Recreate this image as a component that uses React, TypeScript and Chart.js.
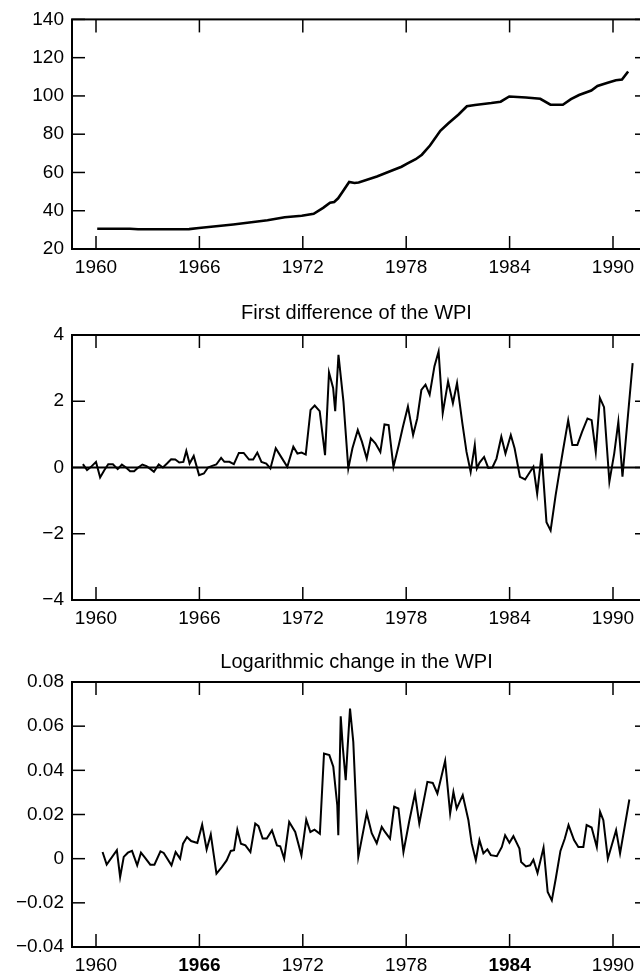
import React, { useEffect, useRef } from "react";
import { Chart, registerables } from "chart.js";

Chart.register(...registerables);

// ---------- axis data ----------
const xTickYears = [1960, 1966, 1972, 1978, 1984, 1990];
const xMinYear = 1958.607;
const xMaxYear = 1991.625;

const levelTicks = [20, 40, 60, 80, 100, 120, 140];
const levelTickLabels = ["20", "40", "60", "80", "100", "120", "140"];
const diffTicks = [-4, -2, 0, 2, 4];
const diffTickLabels = ["\u22124", "\u22122", "0", "2", "4"];
const logTicks = [-0.04, -0.02, 0, 0.02, 0.04, 0.06, 0.08];
const logTickLabels = ["\u22120.04", "\u22120.02", "0", "0.02", "0.04", "0.06", "0.08"];
const boldYearsLog = [1966, 1984];

const titleDiff = "First difference of the WPI";
const titleLog = "Logarithmic change in the WPI";

// ---------- series: WPI level ----------
const levelYears = [
  1960.07, 1961.97, 1962.44, 1965.4, 1965.97, 1967.96, 1969.95, 1970.95, 1971.94, 1972.63,
  1973.18, 1973.58, 1973.82, 1974.05, 1974.29, 1974.69, 1975.0, 1975.24, 1976.3, 1977.25,
  1977.73, 1978.08, 1978.55, 1978.91, 1979.38, 1979.98, 1980.45, 1981.04, 1981.52, 1981.99,
  1982.94, 1983.48, 1983.98, 1984.95, 1985.78, 1986.37, 1987.09, 1987.56, 1988.03, 1988.74,
  1989.1, 1989.69, 1990.17, 1990.52, 1990.88,
];
const levelValues = [
  30.6, 30.6, 30.3, 30.4, 31.0, 32.8, 35.0, 36.6, 37.4, 38.4,
  41.5, 44.2, 44.6, 46.5, 49.7, 55.0, 54.5, 54.8, 57.9, 61.3,
  63.0, 64.7, 66.9, 69.3, 74.1, 81.8, 85.7, 90.3, 94.6, 95.3,
  96.3, 97.0, 99.7, 99.2, 98.5, 95.4, 95.4, 98.3, 100.5, 102.8,
  105.2, 106.9, 108.2, 108.6, 112.8,
];

// ---------- series: first difference ----------
const diffYears = [
  1959.24, 1959.48, 1959.71, 1960.0, 1960.24, 1960.48, 1960.71, 1960.98, 1961.26, 1961.5,
  1961.74, 1961.98, 1962.21, 1962.45, 1962.69, 1962.93, 1963.17, 1963.36, 1963.64, 1963.88,
  1964.12, 1964.36, 1964.6, 1964.83, 1965.07, 1965.24, 1965.43, 1965.67, 1965.98, 1966.26,
  1966.5, 1966.74, 1966.98, 1967.26, 1967.45, 1967.74, 1968.0, 1968.29, 1968.57, 1968.88,
  1969.12, 1969.36, 1969.6, 1969.88, 1970.12, 1970.43, 1970.74, 1971.1, 1971.45, 1971.69,
  1971.93, 1972.17, 1972.45, 1972.69, 1972.98, 1973.29, 1973.52, 1973.76, 1973.88, 1974.07,
  1974.36, 1974.64, 1974.88, 1975.19, 1975.43, 1975.71, 1975.95, 1976.21, 1976.5, 1976.74,
  1976.98, 1977.26, 1977.57, 1977.81, 1978.1, 1978.4, 1978.64, 1978.88, 1979.12, 1979.36,
  1979.64, 1979.88, 1980.12, 1980.43, 1980.71, 1980.95, 1981.26, 1981.5, 1981.74, 1981.98,
  1982.1, 1982.26, 1982.52, 1982.76, 1983.0, 1983.24, 1983.52, 1983.76, 1984.07, 1984.29,
  1984.6, 1984.9, 1985.19, 1985.38, 1985.6, 1985.86, 1986.14, 1986.38, 1986.67, 1986.86,
  1987.1, 1987.4, 1987.64, 1987.93, 1988.21, 1988.52, 1988.76, 1989.0, 1989.24, 1989.48,
  1989.79, 1990.07, 1990.31, 1990.55, 1991.14,
];
const diffValues = [
  0.1, -0.08, 0.02, 0.17, -0.3, -0.08, 0.1, 0.1, -0.05, 0.09,
  0.0, -0.11, -0.11, 0.0, 0.09, 0.04, -0.05, -0.13, 0.09, 0.0,
  0.12, 0.25, 0.24, 0.15, 0.17, 0.5, 0.12, 0.35, -0.23, -0.18,
  0.0, 0.05, 0.09, 0.29, 0.17, 0.17, 0.1, 0.44, 0.44, 0.24,
  0.24, 0.45, 0.17, 0.12, -0.03, 0.58, 0.32, 0.02, 0.63, 0.42,
  0.45, 0.39, 1.74, 1.87, 1.7, 0.37, 2.87, 2.4, 1.7, 3.4,
  1.98, -0.03, 0.58, 1.13, 0.78, 0.27, 0.88, 0.73, 0.47, 1.3,
  1.28, 0.02, 0.68, 1.23, 1.84, 0.98, 1.48, 2.34, 2.5, 2.2,
  3.06, 3.5, 1.64, 2.6, 1.94, 2.55, 1.33, 0.47, -0.13, 0.68,
  -0.03, 0.15, 0.32, -0.01, 0.0, 0.27, 0.93, 0.42, 0.98, 0.58,
  -0.28, -0.36, -0.13, 0.02, -0.79, 0.42, -1.65, -1.9, -0.84, -0.23,
  0.52, 1.43, 0.68, 0.68, 1.08, 1.48, 1.43, 0.47, 2.1, 1.82,
  -0.43, 0.42, 1.38, -0.28, 3.15,
];

// ---------- series: logarithmic change ----------
const logYears = [
  1960.38, 1960.62, 1961.21, 1961.4, 1961.61, 1961.85, 1962.09, 1962.39, 1962.61, 1962.84,
  1963.15, 1963.39, 1963.74, 1963.93, 1964.38, 1964.62, 1964.88, 1965.05, 1965.28, 1965.52,
  1965.88, 1966.16, 1966.42, 1966.66, 1966.99, 1967.3, 1967.58, 1967.82, 1968.01, 1968.2,
  1968.41, 1968.67, 1968.96, 1969.24, 1969.43, 1969.67, 1969.91, 1970.21, 1970.5, 1970.69,
  1970.92, 1971.21, 1971.56, 1971.92, 1972.2, 1972.44, 1972.68, 1972.99, 1973.23, 1973.54,
  1973.77, 1974.0, 1974.06, 1974.2, 1974.32, 1974.49, 1974.59, 1974.74, 1974.93, 1975.22,
  1975.71, 1976.0, 1976.29, 1976.58, 1976.77, 1977.06, 1977.3, 1977.55, 1977.84, 1978.17,
  1978.51, 1978.76, 1979.23, 1979.54, 1979.81, 1980.26, 1980.55, 1980.74, 1980.93, 1981.28,
  1981.61, 1981.8, 1982.04, 1982.25, 1982.48, 1982.71, 1982.91, 1983.26, 1983.55, 1983.74,
  1983.99, 1984.22, 1984.57, 1984.67, 1984.95, 1985.19, 1985.38, 1985.62, 1985.97, 1986.21,
  1986.45, 1986.68, 1986.95, 1987.2, 1987.42, 1987.74, 1987.99, 1988.28, 1988.47, 1988.76,
  1989.06, 1989.25, 1989.44, 1989.7, 1990.18, 1990.41, 1990.95,
];
const logValues = [
  0.003, -0.0027, 0.0038, -0.0083, 0.0008, 0.0027, 0.0035, -0.003, 0.0027, 0.0005,
  -0.0027, -0.0027, 0.0033, 0.0026, -0.003, 0.003, 0.0, 0.0068, 0.0098, 0.008,
  0.0071, 0.0154, 0.0042, 0.011, -0.0068, -0.0038, -0.0008, 0.0035, 0.0038, 0.0131,
  0.0068, 0.006, 0.003, 0.0159, 0.0147, 0.0091, 0.0091, 0.0128, 0.006, 0.0056,
  0.0, 0.0166, 0.0121, 0.0015, 0.0177, 0.0121, 0.0131, 0.0113, 0.0476, 0.0469,
  0.0416, 0.0242, 0.0106, 0.0645, 0.0506, 0.0355, 0.049, 0.068, 0.0529, 0.0008,
  0.0206, 0.0115, 0.007, 0.0144, 0.0121, 0.0091, 0.0235, 0.0227, 0.003, 0.0167,
  0.0295, 0.0159, 0.0348, 0.0343, 0.0295, 0.0443, 0.0205, 0.0302, 0.0227, 0.0288,
  0.0174, 0.0069, -0.0007, 0.0084, 0.0024, 0.0042, 0.0016, 0.0011, 0.0053, 0.0106,
  0.0072, 0.0102, 0.0046, -0.0015, -0.0035, -0.003, -0.0005, -0.0065, 0.005, -0.0151,
  -0.0189, -0.009, 0.0035, 0.009, 0.0152, 0.0084, 0.0053, 0.0053, 0.0152, 0.0141,
  0.0053, 0.0212, 0.0174, 0.0, 0.0129, 0.0024, 0.0268,
];

const FONT = '"Liberation Sans", Arial, Helvetica, sans-serif';
const INK = "#000000";

function zip(xs: number[], ys: number[]) {
  const n = Math.min(xs.length, ys.length);
  const out: { x: number; y: number }[] = [];
  for (let i = 0; i < n; i++) out.push({ x: xs[i], y: ys[i] });
  return out;
}

const framePlugin = {
  id: "frame",
  afterDatasetsDraw(chart: any, _args: any, opts: any) {
    const { ctx, chartArea: a, scales } = chart;
    const xs = scales.x;
    const ys = scales.y;
    ctx.save();
    ctx.strokeStyle = INK;
    ctx.lineCap = "butt";
    const seg = (x1: number, y1: number, x2: number, y2: number) => {
      ctx.beginPath();
      ctx.moveTo(x1, y1);
      ctx.lineTo(x2, y2);
      ctx.stroke();
    };
    if (opts && opts.zeroLine) {
      ctx.lineWidth = 2;
      const y0 = ys.getPixelForValue(0);
      seg(a.left, y0, a.right, y0);
    }
    ctx.lineWidth = 2;
    ctx.strokeRect(a.left, a.top, a.right - a.left, a.bottom - a.top);
    ctx.lineWidth = 1.5;
    const tl = 13;
    xs.ticks.forEach((t: any) => {
      const px = xs.getPixelForValue(t.value);
      seg(px, a.bottom, px, a.bottom - tl);
      seg(px, a.top, px, a.top + tl);
    });
    ys.ticks.forEach((t: any) => {
      const py = ys.getPixelForValue(t.value);
      seg(a.left, py, a.left + tl, py);
      seg(a.right, py, a.right - 6, py);
    });
    ctx.restore();
  },
};

type PanelSpec = {
  top: number;
  height: number;
  padTop: number;
  xAxisHeight: number;
  lineWidth: number;
  title?: string;
  titlePad?: { top: number; bottom: number };
  xs: number[];
  ys: number[];
  yMin: number;
  yMax: number;
  yTicks: number[];
  yLabels: string[];
  zeroLine?: boolean;
  boldYears?: number[];
};

function Panel({ spec }: { spec: PanelSpec }) {
  const ref = useRef<HTMLCanvasElement | null>(null);
  useEffect(() => {
    if (!ref.current) return;
    const chart = new Chart(ref.current, {
      type: "line",
      data: {
        datasets: [
          {
            data: zip(spec.xs, spec.ys),
            borderColor: INK,
            borderWidth: spec.lineWidth,
            pointRadius: 0,
            tension: 0,
            fill: false,
          },
        ],
      },
      options: {
        animation: false,
        responsive: false,
        devicePixelRatio: 1,
        layout: { padding: { left: 0, right: 1, top: spec.padTop, bottom: 0 } },
        plugins: {
          legend: { display: false },
          tooltip: { enabled: false },
          title: spec.title
            ? {
                display: true,
                text: spec.title,
                fullSize: false,
                color: INK,
                font: { family: FONT, size: 20, weight: "normal" },
                padding: spec.titlePad,
              }
            : { display: false },
          frame: { zeroLine: !!spec.zeroLine },
        } as any,
        scales: {
          x: {
            type: "linear",
            min: xMinYear,
            max: xMaxYear,
            grid: { display: false, drawTicks: false },
            border: { display: false },
            afterBuildTicks: (s: any) => {
              s.ticks = xTickYears.map((v) => ({ value: v }));
            },
            afterFit: (s: any) => {
              s.height = spec.xAxisHeight;
              s.paddingLeft = 0;
              s.paddingRight = 0;
            },
            ticks: {
              autoSkip: false,
              maxRotation: 0,
              padding: 7,
              color: INK,
              font: (c: any) => ({
                family: FONT,
                size: 19,
                weight:
                  spec.boldYears && c.tick && spec.boldYears.includes(c.tick.value)
                    ? "bold"
                    : "normal",
              }),
              callback: (v: any) => String(v),
            },
          },
          y: {
            type: "linear",
            min: spec.yMin,
            max: spec.yMax,
            grid: { display: false, drawTicks: false },
            border: { display: false },
            afterBuildTicks: (s: any) => {
              s.ticks = spec.yTicks.map((v) => ({ value: v }));
            },
            afterFit: (s: any) => {
              s.width = 72;
            },
            ticks: {
              autoSkip: false,
              padding: 8,
              color: INK,
              font: { family: FONT, size: 19 },
              callback: (v: any) => {
                const i = spec.yTicks.findIndex((t) => Math.abs(t - v) < 1e-9);
                return i >= 0 ? spec.yLabels[i] : "";
              },
            },
          },
        },
      } as any,
      plugins: [framePlugin],
    });
    return () => chart.destroy();
  }, []);
  return (
    <canvas
      ref={ref}
      width={642}
      height={spec.height}
      style={{ position: "absolute", left: 0, top: spec.top, width: 642, height: spec.height }}
    />
  );
}

const panels: PanelSpec[] = [
  {
    top: 0,
    height: 290,
    padTop: 14,
    xAxisHeight: 41,
    lineWidth: 2.6,
    xs: levelYears,
    ys: levelValues,
    yMin: 20,
    yMax: 140,
    yTicks: levelTicks,
    yLabels: levelTickLabels,
  },
  {
    top: 290,
    height: 340,
    padTop: 0,
    xAxisHeight: 30,
    lineWidth: 2,
    title: titleDiff,
    titlePad: { top: 11, bottom: 10 },
    xs: diffYears,
    ys: diffValues,
    yMin: -4,
    yMax: 4,
    yTicks: diffTicks,
    yLabels: diffTickLabels,
    zeroLine: true,
  },
  {
    top: 630,
    height: 343,
    padTop: 0,
    xAxisHeight: 26,
    lineWidth: 2,
    title: titleLog,
    titlePad: { top: 20, bottom: 8 },
    xs: logYears,
    ys: logValues,
    yMin: -0.04,
    yMax: 0.08,
    yTicks: logTicks,
    yLabels: logTickLabels,
    boldYears: boldYearsLog,
  },
];

export default function App() {
  return (
    <div
      style={{
        position: "absolute",
        left: 0,
        top: 0,
        width: 640,
        height: 973,
        overflow: "hidden",
        background: "#ffffff",
      }}
    >
      {panels.map((p, i) => (
        <Panel key={i} spec={p} />
      ))}
    </div>
  );
}
